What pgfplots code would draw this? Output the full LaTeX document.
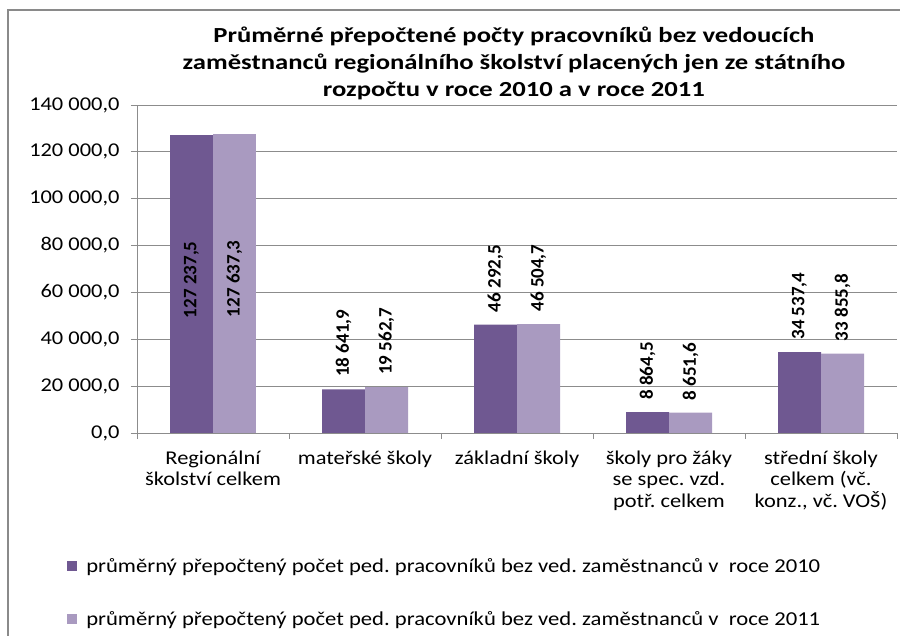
\documentclass[border=0pt]{standalone}
\usepackage{fontspec}
\setmainfont{Carlito}[FakeStretch=1.15]
\newfontfamily\valfont{Carlito}
\newfontfamily\titlefont{Carlito}[FakeStretch=1.24]
\usepackage{pgfplots}
\pgfplotsset{compat=1.18}
\definecolor{darkp}{HTML}{6F5891}
\definecolor{lightp}{HTML}{A99AC0}
\definecolor{gridc}{HTML}{8C8C8C}
\definecolor{framec}{HTML}{8A8A8A}
\frenchspacing
\begin{document}
\begin{tikzpicture}
\useasboundingbox (0,0) rectangle (900bp,636bp);
\draw[framec, line width=1.8bp] (8bp,-2bp) -- (8bp,626bp) -- (902bp,626bp);
\begin{axis}[
  at={(137bp,203bp)}, anchor=south west,
  scale only axis, width=760bp, height=328bp,
  xmin=-0.5, xmax=4.5, ymin=0, ymax=140000,
  ytick={0,20000,...,140000},
  ymajorgrids, grid style={gridc, line width=0.8bp},
  axis x line*=bottom, axis y line*=left,
  axis line style={gridc, line width=0.8bp, -},
  tick style={gridc, line width=0.8bp},
  tick align=outside, major tick length=6bp, minor tick length=6bp,
  xtick={0,1,2,3,4},
  major x tick style={draw=none},
  minor xtick={-0.5,0.5,1.5,2.5,3.5,4.5},
  xticklabels={{Regionální\\školství celkem},{mateřské školy},{základní školy},{školy pro žáky\\se spec. vzd.\\potř. celkem},{střední školy\\celkem (vč.\\konz., vč. VOŠ)}},
  xticklabel style={align=center, font=\fontsize{19.5bp}{21.5bp}\selectfont, yshift=-8bp},
  yticklabel style={font=\fontsize{19.5bp}{22bp}\selectfont, xshift=-8bp},
  /pgf/number format/assume math mode=true,
  /pgf/number format/.cd, use comma, 1000 sep={\ }, fixed, fixed zerofill, precision=1, /pgfplots/.cd,
  scaled y ticks=false,
  ybar, bar width=43bp,
  nodes near coords={\valfont\bfseries\fontsize{19bp}{20bp}\selectfont\pgfmathprintnumber[use comma, 1000 sep={\ }, fixed, fixed zerofill, precision=1]{\pgfplotspointmeta}},
  every node near coord/.append style={black, yshift=9bp, rotate=90, anchor=west},
  title={Průměrné přepočtené počty pracovníků bez vedoucích\\zaměstnanců regionálního školství placených jen ze státního\\rozpočtu v roce 2010 a v roce 2011},
  title style={at={(0.496,1.11)}, anchor=center, align=center, font=\titlefont\bfseries\fontsize{21.5bp}{27bp}\selectfont},
  legend style={at={(-0.092,-0.375)}, anchor=north west, draw=none, fill=none,
    font=\fontsize{19.7bp}{22bp}\selectfont, row sep=34bp, inner sep=0pt,
    /tikz/every odd column/.append style={column sep=7bp}},
  legend cell align=left,
  legend image code/.code={\fill[#1] (0bp,-5bp) rectangle (10bp,5bp);},
]
\addplot[fill=darkp, draw=none, bar shift=-21.5bp] coordinates {(1,18641.9) (2,46292.5) (3,8864.5) (4,34537.4)};
\addlegendentry{průměrný přepočtený počet ped. pracovníků bez ved. zaměstnanců v\ \ roce 2010}
\addplot[fill=lightp, draw=none, bar shift=21.5bp] coordinates {(1,19562.7) (2,46504.7) (3,8651.6) (4,33855.8)};
\addlegendentry{průměrný přepočtený počet ped. pracovníků bez ved. zaměstnanců v\ \ roce 2011}
\addplot[fill=darkp, draw=none, bar shift=-21.5bp, forget plot,
  every node near coord/.append style={anchor=east, xshift=-112bp}] coordinates {(0,127237.5)};
\addplot[fill=lightp, draw=none, bar shift=21.5bp, forget plot,
  every node near coord/.append style={anchor=east, xshift=-112bp}] coordinates {(0,127637.3)};
\end{axis}
\end{tikzpicture}
\end{document}
